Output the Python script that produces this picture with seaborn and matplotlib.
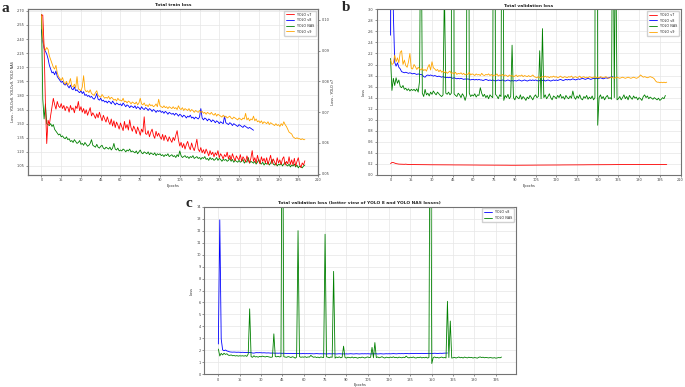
import numpy as np
import seaborn as sns
import matplotlib
matplotlib.use('Agg')
import matplotlib.pyplot as plt

# ---- data ----
train_v7 = [
    0.1016, 0.1016, 0.0913, 0.0728, 0.0598, 0.0674, 0.0660, 0.0690, 0.0717, 0.0745,
    0.0725, 0.0710, 0.0735, 0.0720, 0.0715, 0.0728, 0.0712, 0.0722, 0.0705, 0.0718,
    0.0716, 0.0700, 0.0722, 0.0708, 0.0714, 0.0698, 0.0720, 0.0712, 0.0735, 0.0705,
    0.0718, 0.0700, 0.0712, 0.0695, 0.0708, 0.0690, 0.0702, 0.0715, 0.0688, 0.0698,
    0.0690, 0.0680, 0.0695, 0.0682, 0.0700, 0.0685, 0.0672, 0.0690, 0.0678, 0.0668,
    0.0685, 0.0670, 0.0660, 0.0678, 0.0655, 0.0672, 0.0650, 0.0668, 0.0658, 0.0645,
    0.0665, 0.0652, 0.0640, 0.0670, 0.0648, 0.0660, 0.0642, 0.0675, 0.0650, 0.0638,
    0.0655, 0.0645, 0.0630, 0.0652, 0.0640, 0.0625, 0.0645, 0.0635, 0.0685, 0.0630,
    0.0628, 0.0640, 0.0620, 0.0635, 0.0645, 0.0625, 0.0615, 0.0638, 0.0622, 0.0632,
    0.0620, 0.0612, 0.0628, 0.0608, 0.0625, 0.0615, 0.0605, 0.0620, 0.0610, 0.0602,
    0.0618, 0.0608, 0.0625, 0.0640, 0.0610, 0.0590, 0.0602, 0.0585, 0.0598, 0.0580,
    0.0595, 0.0605, 0.0588, 0.0578, 0.0600, 0.0585, 0.0575, 0.0592, 0.0612, 0.0580,
    0.0572, 0.0585, 0.0568, 0.0578, 0.0565, 0.0580, 0.0570, 0.0558, 0.0575, 0.0562,
    0.0570, 0.0555, 0.0568, 0.0560, 0.0575, 0.0552, 0.0565, 0.0558, 0.0548, 0.0562,
    0.0555, 0.0570, 0.0548, 0.0560, 0.0545, 0.0565, 0.0552, 0.0542, 0.0558, 0.0550,
    0.0545, 0.0562, 0.0540, 0.0555, 0.0548, 0.0538, 0.0558, 0.0545, 0.0535, 0.0550,
    0.0575, 0.0540, 0.0552, 0.0535, 0.0560, 0.0542, 0.0532, 0.0555, 0.0540, 0.0550,
    0.0535, 0.0552, 0.0530, 0.0545, 0.0560, 0.0532, 0.0548, 0.0538, 0.0528, 0.0552,
    0.0535, 0.0545, 0.0530, 0.0548, 0.0555, 0.0528, 0.0540, 0.0532, 0.0555, 0.0530,
    0.0545, 0.0528, 0.0550, 0.0525, 0.0540, 0.0552, 0.0530, 0.0520, 0.0535, 0.0528,
    0.0542]

train_v8 = [
    2.50, 2.38, 2.30, 2.27, 2.24, 2.19, 2.12, 2.08, 2.04, 2.05,
    2.02, 2.06, 2.00, 1.98, 1.96, 1.94, 1.95, 1.92, 1.91, 1.93,
    1.90, 1.88, 1.91, 1.87, 1.86, 1.89, 1.85, 1.86, 1.84, 1.83,
    1.85, 1.82, 1.84, 1.80, 1.81, 1.79, 1.80, 1.78, 1.79, 1.77,
    1.76, 1.78, 1.82, 1.76, 1.75, 1.77, 1.74, 1.75, 1.73, 1.74,
    1.72, 1.74, 1.73, 1.71, 1.74, 1.72, 1.70, 1.72, 1.71, 1.70,
    1.71, 1.69, 1.72, 1.70, 1.68, 1.70, 1.69, 1.67, 1.69, 1.68,
    1.67, 1.69, 1.66, 1.68, 1.67, 1.65, 1.68, 1.66, 1.65, 1.67,
    1.66, 1.64, 1.66, 1.65, 1.63, 1.65, 1.64, 1.62, 1.64, 1.63,
    1.64, 1.62, 1.63, 1.61, 1.63, 1.62, 1.60, 1.62, 1.61, 1.60,
    1.61, 1.59, 1.61, 1.60, 1.58, 1.60, 1.59, 1.57, 1.59, 1.58,
    1.56, 1.58, 1.57, 1.59, 1.56, 1.57, 1.55, 1.57, 1.56, 1.55,
    1.57, 1.66, 1.56, 1.54, 1.56, 1.55, 1.53, 1.55, 1.54, 1.52,
    1.54, 1.53, 1.51, 1.53, 1.52, 1.50, 1.52, 1.51, 1.50, 1.58,
    1.51, 1.50, 1.49, 1.51, 1.50, 1.48, 1.50, 1.49, 1.48, 1.47,
    1.49, 1.48, 1.47, 1.46, 1.48, 1.47, 1.46, 1.45, 1.46, 1.45,
    1.44, 1.43]

train_nas = [
    2.66, 1.76, 1.55, 1.71, 1.50, 1.49, 1.48, 1.50, 1.47, 1.49,
    1.44, 1.42, 1.40, 1.38, 1.39, 1.36, 1.37, 1.35, 1.34, 1.36,
    1.33, 1.34, 1.31, 1.32, 1.30, 1.33, 1.31, 1.29, 1.30, 1.32,
    1.28, 1.29, 1.27, 1.30, 1.28, 1.26, 1.27, 1.29, 1.33, 1.27,
    1.26, 1.25, 1.28, 1.25, 1.24, 1.26, 1.27, 1.24, 1.23, 1.25,
    1.24, 1.23, 1.25, 1.22, 1.24, 1.29, 1.23, 1.22, 1.24, 1.21,
    1.22, 1.21, 1.23, 1.22, 1.20, 1.22, 1.21, 1.23, 1.20, 1.21,
    1.20, 1.19, 1.21, 1.18, 1.20, 1.22, 1.19, 1.18, 1.20, 1.19,
    1.18, 1.20, 1.17, 1.19, 1.18, 1.17, 1.19, 1.16, 1.18, 1.17,
    1.18, 1.16, 1.17, 1.15, 1.17, 1.16, 1.18, 1.15, 1.16, 1.17,
    1.15, 1.16, 1.14, 1.17, 1.15, 1.21, 1.16, 1.14, 1.15, 1.16,
    1.14, 1.15, 1.13, 1.15, 1.14, 1.16, 1.13, 1.14, 1.15, 1.13,
    1.14, 1.12, 1.14, 1.13, 1.15, 1.12, 1.13, 1.11, 1.14, 1.12,
    1.13, 1.11, 1.12, 1.14, 1.11, 1.13, 1.12, 1.10, 1.12, 1.11,
    1.12, 1.10, 1.11, 1.13, 1.10, 1.12, 1.09, 1.11, 1.10, 1.09,
    1.11, 1.09, 1.10, 1.12, 1.08, 1.10, 1.09, 1.14, 1.08, 1.10,
    1.09, 1.08, 1.10, 1.07, 1.09, 1.12, 1.08, 1.07, 1.09, 1.06,
    1.08, 1.07, 1.09, 1.06, 1.08, 1.12, 1.07, 1.06, 1.08, 1.05,
    1.07, 1.06, 1.08, 1.05, 1.07, 1.09, 1.06, 1.05, 1.07, 1.04,
    1.06, 1.05, 1.07, 1.04, 1.06, 1.03, 1.05, 1.04, 1.03, 1.05,
    1.06]

train_v9 = [
    2.66, 2.40, 2.32, 2.28, 2.31, 2.29, 2.22, 2.18, 2.14, 2.10,
    2.08, 2.12, 2.04, 2.00, 1.98, 1.96, 1.99, 1.94, 1.92, 1.95,
    1.91, 1.93, 1.98, 1.90, 1.89, 1.92, 1.88, 2.00, 1.87, 1.86,
    1.85, 1.89, 2.01, 1.86, 1.84, 1.85, 1.83, 1.86, 1.82, 1.81,
    1.80, 1.83, 1.85, 1.80, 1.79, 1.78, 1.81, 1.79, 1.77, 1.78,
    1.77, 1.79, 1.76, 1.78, 1.77, 1.75, 1.76, 1.74, 1.77, 1.75,
    1.75, 1.74, 1.77, 1.73, 1.74, 1.72, 1.74, 1.73, 1.71, 1.73,
    1.72, 1.71, 1.73, 1.70, 1.72, 1.77, 1.71, 1.70, 1.72, 1.69,
    1.70, 1.68, 1.71, 1.69, 1.70, 1.68, 1.69, 1.71, 1.68, 1.76,
    1.69, 1.68, 1.67, 1.69, 1.67, 1.68, 1.66, 1.68, 1.67, 1.66,
    1.68, 1.66, 1.67, 1.65, 1.69, 1.66, 1.65, 1.67, 1.64, 1.66,
    1.65, 1.64, 1.66, 1.63, 1.65, 1.64, 1.62, 1.64, 1.63, 1.62,
    1.64, 1.62, 1.63, 1.61, 1.62, 1.60, 1.62, 1.61, 1.60, 1.62,
    1.60, 1.59, 1.61, 1.58, 1.60, 1.59, 1.58, 1.57, 1.59, 1.57,
    1.58, 1.56, 1.57, 1.58, 1.56, 1.55, 1.57, 1.56, 1.55, 1.54,
    1.56, 1.55, 1.54, 1.56, 1.55, 1.61, 1.54, 1.56, 1.53, 1.55,
    1.54, 1.58, 1.53, 1.55, 1.52, 1.53, 1.51, 1.53, 1.50, 1.52,
    1.51, 1.50, 1.52, 1.49, 1.51, 1.50, 1.49, 1.48, 1.50, 1.48,
    1.49, 1.47, 1.50, 1.48, 1.52, 1.49, 1.47, 1.44, 1.41, 1.40,
    1.39, 1.36, 1.35, 1.34, 1.35, 1.34, 1.34, 1.33, 1.34, 1.33,
    1.33]

val_v7 = [
    0.205, 0.225, 0.224, 0.215, 0.205, 0.200, 0.196, 0.195, 0.193, 0.191,
    0.192, 0.195, 0.191, 0.190, 0.189, 0.190, 0.188, 0.188, 0.187, 0.187,
    0.186, 0.187, 0.186, 0.185, 0.186, 0.185, 0.185, 0.184, 0.185, 0.184,
    0.184, 0.185, 0.184, 0.183, 0.184, 0.183, 0.184, 0.183, 0.183, 0.182,
    0.183, 0.182, 0.183, 0.182, 0.182, 0.181, 0.182, 0.181, 0.182, 0.181,
    0.181, 0.180, 0.181, 0.180, 0.181, 0.180, 0.180, 0.179, 0.180, 0.179,
    0.180, 0.179, 0.179, 0.178, 0.179, 0.178, 0.179, 0.178, 0.178, 0.177,
    0.178, 0.177, 0.178, 0.177, 0.177, 0.178, 0.177, 0.176, 0.177, 0.176,
    0.177, 0.176, 0.176, 0.177, 0.176, 0.175, 0.176, 0.175, 0.176, 0.175,
    0.175, 0.176, 0.175, 0.176, 0.175, 0.176, 0.176, 0.175, 0.176, 0.176,
    0.177, 0.176, 0.177, 0.177, 0.178, 0.177, 0.178, 0.178, 0.177, 0.178,
    0.178, 0.179, 0.178, 0.179, 0.179, 0.178, 0.179, 0.180, 0.179, 0.180,
    0.180, 0.179, 0.180, 0.181, 0.180, 0.181, 0.181, 0.180, 0.181, 0.182,
    0.181, 0.182, 0.182, 0.181, 0.182, 0.183, 0.182, 0.183, 0.183, 0.182,
    0.183, 0.184, 0.183, 0.184, 0.184, 0.183, 0.184, 0.185, 0.184, 0.185,
    0.185, 0.184, 0.185, 0.185, 0.186, 0.185, 0.186, 0.185, 0.186, 0.186,
    0.186, 0.187, 0.186, 0.187, 0.187, 0.186, 0.187, 0.187, 0.188, 0.187,
    0.187, 0.188, 0.187, 0.188, 0.188, 0.187, 0.188, 0.188, 0.189, 0.188,
    0.188, 0.189, 0.188, 0.189, 0.189, 0.188, 0.189, 0.189, 0.190, 0.189,
    0.189, 0.190, 0.189, 0.190, 0.190, 0.189, 0.190, 0.190, 0.190, 0.189,
    0.190]

val_v8 = [
    2.53, 12.9, 2.95, 2.04, 1.97, 2.03, 1.95, 1.92, 1.87, 1.86,
    1.85, 1.86, 1.85, 1.84, 1.85, 1.84, 1.83, 1.84, 1.83, 1.82,
    1.83, 1.82, 1.82, 1.81, 1.78, 1.77, 1.80, 1.81, 1.80, 1.81,
    1.80, 1.79, 1.80, 1.79, 1.78, 1.79, 1.78, 1.77, 1.78, 1.77,
    1.76, 1.77, 1.76, 1.77, 1.76, 1.75, 1.76, 1.75, 1.74, 1.75,
    1.74, 1.75, 1.74, 1.73, 1.74, 1.73, 1.74, 1.73, 1.72, 1.73,
    1.73, 1.72, 1.73, 1.72, 1.73, 1.72, 1.72, 1.71, 1.72, 1.73,
    1.72, 1.71, 1.72, 1.71, 1.72, 1.71, 1.70, 1.71, 1.72, 1.71,
    1.71, 1.72, 1.71, 1.70, 1.71, 1.72, 1.71, 1.70, 1.71, 1.70,
    1.71, 1.70, 1.71, 1.72, 1.71, 1.70, 1.71, 1.72, 1.71, 1.70,
    1.71, 1.72, 1.71, 1.72, 1.71, 1.72, 1.71, 1.70, 1.71, 1.72,
    1.71, 1.72, 1.70, 1.71, 1.72, 1.71, 1.70, 1.71, 1.72, 1.71,
    1.72, 1.71, 1.72, 1.73, 1.72, 1.71, 1.72, 1.73, 1.72, 1.73,
    1.72, 1.73, 1.74, 1.73, 1.72, 1.73, 1.74, 1.73, 1.74, 1.75,
    1.74, 1.73, 1.74, 1.75, 1.74, 1.73, 1.74, 1.75, 1.74, 1.75,
    1.74, 1.75, 1.76, 1.75, 1.74, 1.75, 1.76, 1.75, 1.76, 1.77,
    1.77, 1.78]

val_nas = [
    2.11, 1.53, 1.75, 1.62, 1.76, 1.66, 1.72, 1.60, 1.58, 1.62,
    1.55, 1.57, 1.53, 1.56, 1.52, 1.55, 1.53, 1.55, 1.52, 1.56,
    1.50, 1.70, 5.47, 1.48, 1.42, 1.55, 1.45, 1.48, 1.43, 1.50,
    1.46, 1.52, 1.48, 1.45, 1.50, 1.47, 1.44, 1.42, 1.45, 3.38,
    1.48, 1.46, 1.50, 1.45, 1.48, 30.0, 1.47, 1.44, 1.42, 1.48,
    1.45, 1.40, 1.47, 1.43, 1.35, 1.44, 12.0, 1.48, 1.42, 1.45,
    1.43, 1.47, 1.41, 1.45, 1.44, 1.58, 1.48, 1.42, 1.46, 1.40,
    1.44, 1.38, 1.45, 1.42, 1.40, 11.7, 1.46, 1.43, 1.38, 1.45,
    1.42, 8.6, 1.35, 1.44, 1.40, 1.46, 1.38, 1.42, 2.35, 1.40,
    1.36, 1.43, 1.40, 1.38, 1.45, 1.37, 1.42, 1.39, 1.35, 1.41,
    1.38, 1.44, 1.40, 1.36, 1.42, 1.45, 1.40, 1.42, 2.25, 1.38,
    2.65, 1.40, 1.45, 1.38, 1.42, 1.47, 1.40, 1.36, 1.43, 1.41,
    1.38, 1.44, 1.40, 1.46, 1.39, 1.42, 1.37, 1.44, 1.40, 1.38,
    1.43, 1.39, 1.52, 1.41, 1.37, 1.43, 1.39, 1.45, 1.38, 1.36,
    1.42, 1.39, 1.44, 1.37, 1.41, 1.38, 1.43, 1.36, 1.40, 30.0,
    0.90, 1.40, 1.45, 1.38, 1.42, 1.36, 1.41, 1.44, 1.38, 1.40,
    1.37, 6.1, 1.40, 4.45, 1.36, 1.38, 1.42, 1.36, 1.40, 1.45,
    1.38, 1.42, 1.36, 1.44, 1.40, 1.37, 1.43, 1.39, 1.41, 1.36,
    1.40, 1.38, 1.35, 1.42, 1.45, 1.40, 1.43, 1.38, 1.41, 1.39,
    1.37, 1.40, 1.38, 1.36, 1.39, 1.35, 1.37, 1.40, 1.38, 1.44]

val_v9 = [
    2.08, 2.00, 2.02, 2.17, 2.05, 2.12, 2.03, 2.22, 2.25, 2.00,
    2.08, 1.98, 1.95, 2.05, 2.20, 1.93, 1.92, 2.00, 1.96, 1.91,
    1.95, 1.92, 1.90, 1.93, 1.89, 1.91, 1.88, 1.95, 2.00, 1.90,
    2.05, 1.94, 1.92, 1.89, 1.91, 1.87, 1.90, 1.86, 1.88, 1.85,
    1.87, 1.84, 1.86, 1.88, 1.84, 1.85, 1.83, 1.86, 1.82, 1.84,
    1.83, 1.85, 1.82, 1.84, 1.81, 1.83, 1.82, 1.86, 1.81, 1.83,
    1.82, 1.80, 1.83, 1.81, 1.82, 1.80, 1.84, 1.81, 1.80, 1.82,
    1.81, 1.83, 1.80, 1.82, 1.79, 1.81, 1.80, 1.83, 1.79, 1.81,
    1.80, 1.82, 1.79, 1.81, 1.80, 1.78, 1.81, 1.79, 1.80, 1.78,
    1.79, 1.81, 1.78, 1.80, 1.79, 1.81, 1.78, 1.80, 1.79, 1.78,
    1.80, 1.78, 1.79, 1.81, 1.78, 1.77, 1.76, 1.78, 1.76, 1.77,
    1.78, 1.77, 1.79, 1.77, 1.78, 1.76, 1.78, 1.77, 1.79, 1.77,
    1.78, 1.76, 1.77, 1.79, 1.77, 1.76, 1.78, 1.77, 1.76, 1.78,
    1.77, 1.79, 1.76, 1.77, 1.78, 1.76, 1.77, 1.79, 1.76, 1.77,
    1.78, 1.76, 1.77, 1.76, 1.78, 1.77, 1.76, 1.77, 1.78, 1.76,
    1.77, 1.76, 1.78, 1.77, 1.76, 1.77, 1.78, 1.76, 1.75, 1.76,
    1.77, 1.76, 1.75, 1.76, 1.77, 1.76, 1.75, 1.76, 1.77, 1.76,
    1.75, 1.76, 1.77, 1.76, 1.75, 1.76, 1.77, 1.76, 1.75, 1.76,
    1.78, 1.81, 1.79, 1.77, 1.78, 1.77, 1.76, 1.77, 1.78, 1.77,
    1.76, 1.74, 1.70, 1.68, 1.68, 1.67, 1.68, 1.67, 1.68, 1.67,
    1.68]

colors = {'YOLO v7': 'red', 'YOLO v8': 'blue', 'YOLO NAS': 'green', 'YOLO v9': 'orange'}

# ---- style ----
sns.set_theme(style='whitegrid')
plt.rcParams['font.family'] = ['DejaVu Sans']
plt.rcParams.update({
    'axes.edgecolor': '0.45',
    'axes.linewidth': 0.8,
    'grid.color': '0.9',
    'grid.linewidth': 0.5,
    'xtick.labelsize': 2.5,
    'ytick.labelsize': 2.5,
    'axes.labelsize': 2.5,
})

LW = 0.6
fig = plt.figure(figsize=(6.85, 3.87), dpi=100)


def style_axis(ax):
    ax.tick_params(axis='both', which='both', length=1.5, width=0.4, pad=1,
                   colors='0.25', bottom=True, left=True)
    ax.xaxis.labelpad = 1
    ax.yaxis.labelpad = 1.5


def epochs(series):
    return np.arange(len(series))


# ---- panel a: training loss ----
ax_a = fig.add_axes([0.0413, 0.548, 0.423, 0.429])
for name, data in [('YOLO v8', train_v8), ('YOLO NAS', train_nas), ('YOLO v9', train_v9)]:
    sns.lineplot(x=epochs(data), y=data, ax=ax_a, color=colors[name], lw=LW, label=name, legend=False)
ax_a2 = ax_a.twinx()
sns.lineplot(x=epochs(train_v7), y=train_v7, ax=ax_a2, color=colors['YOLO v7'], lw=LW, label='YOLO v7', legend=False)
ax_a2.grid(False)
ax_a.set_xlim(-10, 210)
ax_a.set_xticks(np.arange(0, 211, 15))
ax_a.set_ylim(0.955, 2.72)
ax_a.set_yticks(np.arange(1.05, 2.71, 0.15))
ax_a.yaxis.set_major_formatter(matplotlib.ticker.FormatStrFormatter('%.2f'))
ax_a2.set_ylim(0.0496, 0.1036)
ax_a2.set_yticks(np.arange(0.05, 0.101, 0.01))
ax_a2.yaxis.set_major_formatter(matplotlib.ticker.FormatStrFormatter('%.2f'))
ax_a.set_xlabel('Epochs')
ax_a.set_ylabel('Loss - YOLOv8, YOLOv9, YOLO NAS')
ax_a2.set_ylabel('Loss - YOLO v7', fontsize=2.5)
ax_a.set_title('Total train loss', fontsize=3.2, fontweight='bold', pad=2)
style_axis(ax_a)
ax_a2.tick_params(axis='y', length=1.5, width=0.4, pad=1, colors='0.25', right=True)
ax_a2.yaxis.labelpad = 1.5
h1, l1 = ax_a.get_legend_handles_labels()
h2, l2 = ax_a2.get_legend_handles_labels()
ax_a2.legend(h2 + h1, l2 + l1, loc='upper right', fontsize=2.4, frameon=True,
             framealpha=0.9, edgecolor='0.8', borderpad=0.6, handlelength=2.5,
             labelspacing=0.5, handletextpad=0.8)

# ---- panel b: validation loss ----
ax_b = fig.add_axes([0.550, 0.548, 0.4435, 0.428])
for name, data in [('YOLO v7', val_v7), ('YOLO v8', val_v8), ('YOLO NAS', val_nas), ('YOLO v9', val_v9)]:
    sns.lineplot(x=epochs(data), y=data, ax=ax_b, color=colors[name], lw=LW, label=name)
ax_b.set_xlim(-10, 210)
ax_b.set_xticks(np.arange(0, 211, 15))
ax_b.set_ylim(0, 3.0)
ax_b.set_yticks(np.arange(0, 3.01, 0.2))
ax_b.yaxis.set_major_formatter(matplotlib.ticker.FormatStrFormatter('%.1f'))
ax_b.set_xlabel('Epochs')
ax_b.set_ylabel('Loss')
ax_b.set_title('Total validation loss', fontsize=3.2, fontweight='bold', pad=2)
style_axis(ax_b)
ax_b.legend(loc='upper right', fontsize=2.4, frameon=True, framealpha=0.9,
            edgecolor='0.8', borderpad=0.6, handlelength=2.5, labelspacing=0.5,
            handletextpad=0.8)

# ---- panel c: validation loss, wider range ----
ax_c = fig.add_axes([0.298, 0.0328, 0.4547, 0.433])
for name, data in [('YOLO v8', val_v8), ('YOLO NAS', val_nas)]:
    sns.lineplot(x=epochs(data), y=data, ax=ax_c, color=colors[name], lw=LW, label=name)
ax_c.set_xlim(-10, 208.9)
ax_c.set_xticks(np.arange(0, 196, 15))
ax_c.set_ylim(0, 14)
ax_c.set_yticks(np.arange(0, 15, 1))
ax_c.set_xlabel('Epochs')
ax_c.set_ylabel('Loss')
ax_c.set_title('Total validation loss (better view of YOLO 8 and YOLO NAS losses)',
               fontsize=3.2, fontweight='bold', pad=2)
style_axis(ax_c)
ax_c.legend(loc='upper right', fontsize=2.4, frameon=True, framealpha=0.9,
            edgecolor='0.8', borderpad=0.6, handlelength=2.5, labelspacing=0.5,
            handletextpad=0.8)

# ---- panel letters ----
for letter, x, y in [('a', 2, 2), ('b', 342, 1), ('c', 186, 197)]:
    fig.text(x / 685, 1 - y / 387, letter, fontsize=11, fontweight='bold',
             family=['Liberation Serif', 'DejaVu Serif'], va='top', ha='left')

fig.savefig('out.png', dpi=100)
